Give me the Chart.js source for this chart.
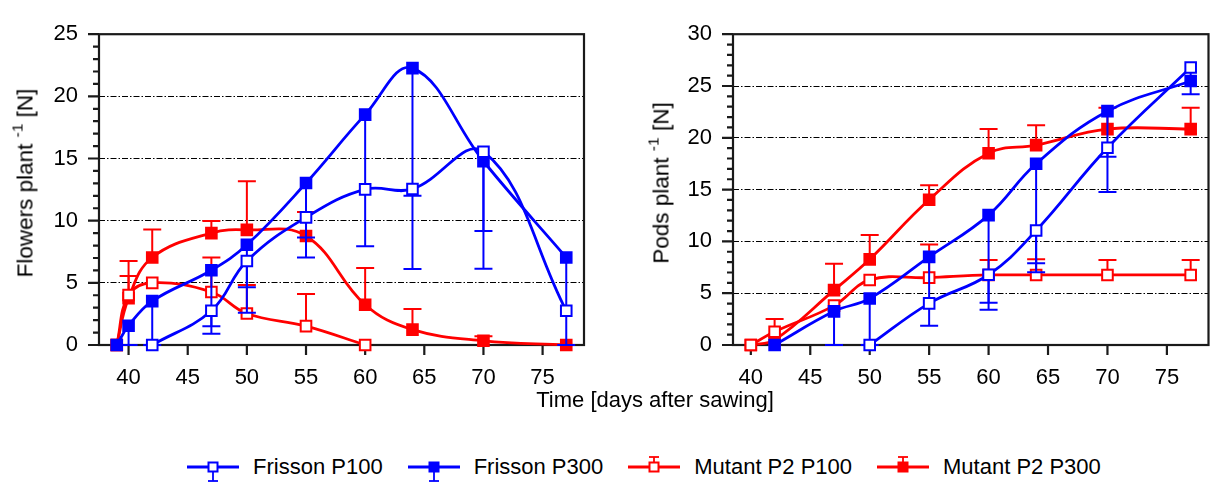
<!DOCTYPE html>
<html>
<head>
<meta charset="utf-8">
<script src="https://cdn.jsdelivr.net/npm/chart.js@4.4.1/dist/chart.umd.min.js"></script>
<style>
  body { margin: 0; width: 1218px; height: 484px; background: #fff; position: relative; overflow: hidden;
         font-family: "Liberation Sans", Arial, sans-serif; color: #000; }
  canvas { position: absolute; top: 0; }
  .ytitle { position: absolute; top: 183px; font-size: 22.5px; white-space: nowrap; line-height: 23px;
            transform: translate(-50%, -50%) rotate(-90deg); }
  .ytitle sup { font-size: 15.5px; line-height: 0; position: relative; top: -2px; }
  #xtitle { position: absolute; left: 655px; top: 389px; font-size: 22px; line-height: 22px;
            transform: translateX(-50%); white-space: nowrap; }
  #legend { position: absolute; left: 187px; top: 452px; display: flex; align-items: center; font-size: 22px; }
  #legend .item { display: flex; align-items: center; margin-right: 25px; }
  #legend svg { margin-right: 14px; }
</style>
</head>
<body>
<canvas id="chart-1" width="610" height="400" style="left:0"></canvas>
<canvas id="chart-2" width="598" height="400" style="left:620px"></canvas>
<div class="ytitle" style="left:25px">Flowers plant <sup>-1</sup> [N]</div>
<div class="ytitle" style="left:661px">Pods plant <sup>-1</sup> [N]</div>
<div id="xtitle">Time [days after sawing]</div>
<div id="legend"></div>
<script>
const xTicks = [40, 45, 50, 55, 60, 65, 70, 75];

const flowerDays = [39, 40, 42, 47, 50, 55, 60, 64, 70, 77];
const flowersFrissonP100 = [null, null, 0, 2.76, 6.76, 10.27, 12.52, 12.55, 15.55, 2.76];
const flowersFrissonP300 = [0, 1.55, 3.53, 6.01, 8.06, 13.03, 18.53, 22.27, 14.78, 7.04];
const flowersMutantP100 = [0, 4.02, 5.0, 4.26, 2.53, 1.52, 0, null, null, null];
const flowersMutantP300 = [0, 3.76, 7.04, 9.0, 9.26, 8.77, 3.24, 1.24, 0.34, 0];
// error bar ends (blue bars go down, red bars go up)
const flowersFrissonP100Err = [null, null, null, 1.5, 2.6, 8.64, null, 12.0, 9.16, null];
const flowersFrissonP300Err = [null, 0, 0, 0.9, 4.64, 7.04, 7.95, 6.11, 6.14, 0];
const flowersMutantP100Err = [null, 5.55, null, 7.04, 4.82, 4.1, null, null, null, null];
const flowersMutantP300Err = [null, 6.76, 9.29, 9.98, 13.18, 10.7, 6.19, 2.89, 0.7, null];

const podDays = [40, 42, 47, 50, 55, 60, 64, 70, 77];
const podsFrissonP100 = [null, null, null, 0, 4.02, 6.78, 11.05, 19.04, 26.78];
const podsFrissonP300 = [null, 0, 3.25, 4.49, 8.51, 12.54, 17.49, 22.57, 25.48];
const podsMutantP100 = [0, 1.28, 3.8, 6.28, 6.5, 6.76, 6.76, 6.76, 6.76];
const podsMutantP300 = [0, 0.5, 5.3, 8.27, 14.02, 18.51, 19.29, 20.84, 20.84];
const podsFrissonP100Err = [null, null, null, null, null, 4.09, 7.9, 14.77, 24.2];
const podsFrissonP300Err = [null, null, 0, 0, 1.86, 3.41, 7.03, 18.17, null];
const podsMutantP100Err = [null, 2.5, null, null, 9.69, 8.2, 8.27, 8.2, 8.2];
const podsMutantP300Err = [null, null, 7.85, 10.62, 15.42, 20.84, 21.2, 22.9, 22.9];

const seriesNames = ["Frisson P100", "Frisson P300", "Mutant P2 P100", "Mutant P2 P300"];
const seriesColors = ["#0000ff", "#0000ff", "#ff0000", "#ff0000"];
const seriesOpen = [true, false, true, false];
const seriesBarDown = [true, true, false, false];

function points(days, vals, errs) {
  const out = [];
  days.forEach(function (d, i) {
    if (vals[i] !== null) out.push({ x: d, y: vals[i], e: errs[i] });
  });
  return out;
}

const errorBars = {
  id: "errorBars",
  beforeDatasetDraw(chart, args) {
    const ds = chart.data.datasets[args.index];
    const ctx = chart.ctx, xs = chart.scales.x, ys = chart.scales.y;
    ctx.save();
    ctx.strokeStyle = ds.borderColor;
    ctx.lineWidth = 2;
    ds.data.forEach(function (p) {
      if (p.e === null || p.e === undefined) return;
      const px = xs.getPixelForValue(p.x);
      const py = ys.getPixelForValue(p.y);
      const pe = ys.getPixelForValue(p.e);
      ctx.beginPath();
      ctx.moveTo(px, py);
      ctx.lineTo(px, pe);
      ctx.moveTo(px - 9, pe);
      ctx.lineTo(px + 9, pe);
      ctx.stroke();
    });
    ctx.restore();
  },
};

const frame = {
  id: "frame",
  beforeDatasetsDraw(chart) {
    const ctx = chart.ctx, a = chart.chartArea, xs = chart.scales.x, ys = chart.scales.y;
    ctx.save();
    ctx.strokeStyle = "#1a1a1a";
    ctx.lineWidth = 2.2;
    ctx.strokeRect(a.left, a.top, a.right - a.left, a.bottom - a.top);
    ctx.beginPath();
    for (let v = 0; v <= ys.max; v++) {
      const py = ys.getPixelForValue(v);
      ctx.moveTo(a.left, py);
      ctx.lineTo(a.left - (v % 5 === 0 ? 11 : 6), py);
    }
    xTicks.forEach(function (v) {
      const px = xs.getPixelForValue(v);
      ctx.moveTo(px, a.bottom);
      ctx.lineTo(px, a.bottom + 10);
    });
    ctx.stroke();
    ctx.restore();
  },
};

function makeChart(id, days, vals, errs, xMin, yMax, yWidth, padRight) {
  const datasets = vals.map(function (v, i) {
    return {
      label: seriesNames[i],
      data: points(days, v, errs[i]),
      borderColor: seriesColors[i],
      borderWidth: 2.8,
      tension: 0.4,
      pointStyle: "rect",
      pointRadius: 7.5,
      pointBorderWidth: 2,
      pointBackgroundColor: seriesOpen[i] ? "#ffffff" : seriesColors[i],
      pointBorderColor: seriesColors[i],
      clip: 10,
    };
  });
  return new Chart(document.getElementById(id), {
    type: "line",
    data: { datasets: datasets },
    plugins: [errorBars, frame],
    options: {
      responsive: false,
      animation: false,
      layout: { padding: { top: 22, right: padRight, left: 0, bottom: 0 } },
      plugins: { legend: { display: false }, tooltip: { enabled: false } },
      scales: {
        x: {
          type: "linear",
          min: xMin,
          max: 78.5,
          afterBuildTicks: function (s) {
            s.ticks = xTicks.map(function (v) { return { value: v }; });
          },
          afterFit: function (s) { s.height = 55; },
          grid: { display: false, drawTicks: false },
          border: { display: false },
          ticks: { autoSkip: false, maxRotation: 0, padding: 20, color: "#000",
                   font: { family: "Liberation Sans", size: 22 } },
        },
        y: {
          min: 0,
          max: yMax,
          afterBuildTicks: function (s) {
            const t = [];
            for (let v = 0; v <= yMax; v += 5) t.push({ value: v });
            s.ticks = t;
          },
          afterFit: function (s) { s.width = yWidth; },
          grid: {
            drawTicks: false,
            lineWidth: 1,
            color: function (c) {
              return c.tick && (c.tick.value === 0 || c.tick.value === yMax) ? "rgba(0,0,0,0)" : "#000";
            },
          },
          border: { display: false, dash: [6, 2, 1.5, 2] },
          ticks: { padding: 21, color: "#000", font: { family: "Liberation Sans", size: 22 } },
        },
      },
    },
  });
}

makeChart("chart-1", flowerDays,
  [flowersFrissonP100, flowersFrissonP300, flowersMutantP100, flowersMutantP300],
  [flowersFrissonP100Err, flowersFrissonP300Err, flowersMutantP100Err, flowersMutantP300Err],
  37.5, 25, 99, 26);
makeChart("chart-2", podDays,
  [podsFrissonP100, podsFrissonP300, podsMutantP100, podsMutantP300],
  [podsFrissonP100Err, podsFrissonP300Err, podsMutantP100Err, podsMutantP300Err],
  38.5, 30, 113, 1);

// legend with line, marker and error bar icons
const legend = document.getElementById("legend");
seriesNames.forEach(function (name, i) {
  const c = seriesColors[i];
  const bar = seriesBarDown[i]
    ? '<line x1="26" y1="15" x2="26" y2="29" stroke="' + c + '" stroke-width="1.8"/><line x1="21" y1="29" x2="31" y2="29" stroke="' + c + '" stroke-width="1.8"/>'
    : '<line x1="26" y1="15" x2="26" y2="5" stroke="' + c + '" stroke-width="1.8"/><line x1="21" y1="5" x2="31" y2="5" stroke="' + c + '" stroke-width="1.8"/>';
  const item = document.createElement("div");
  item.className = "item";
  item.innerHTML =
    '<svg width="52" height="30">' + bar +
    '<line x1="0" y1="15" x2="52" y2="15" stroke="' + c + '" stroke-width="2.8"/>' +
    '<rect x="21.5" y="10.5" width="9" height="9" stroke="' + c + '" stroke-width="2" fill="' +
    (seriesOpen[i] ? "#fff" : c) + '"/></svg><span>' + name + "</span>";
  legend.appendChild(item);
});
</script>
</body>
</html>
